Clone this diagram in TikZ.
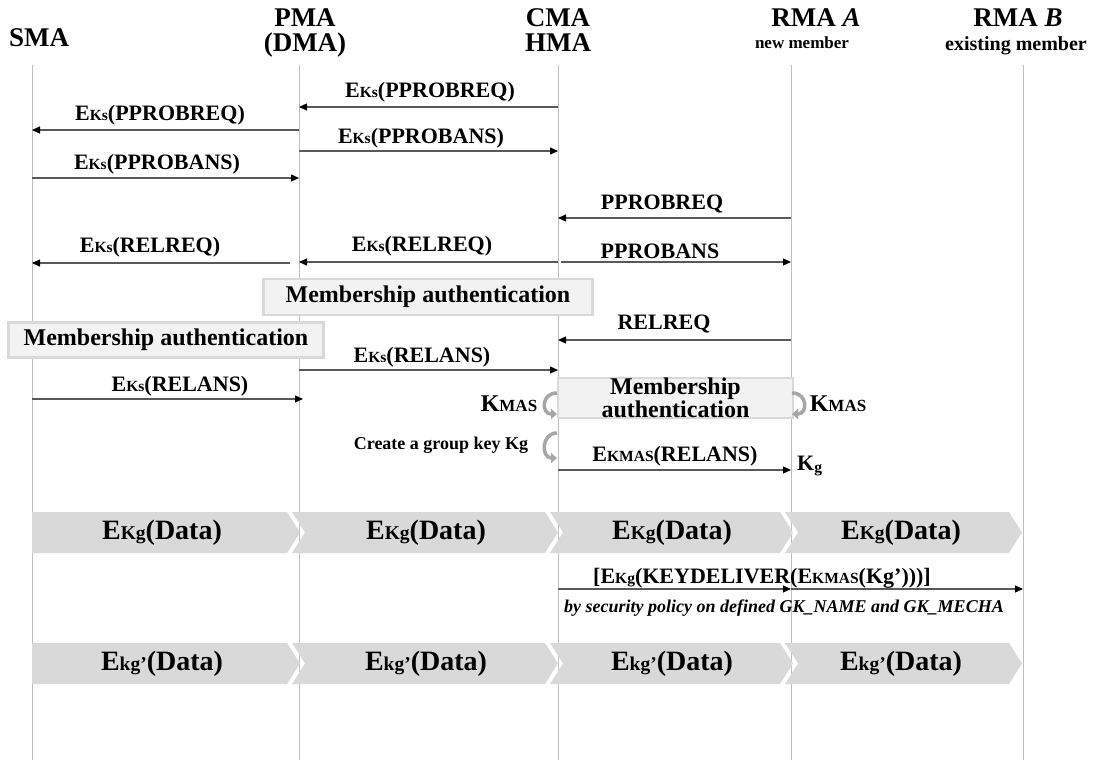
\documentclass[tikz,border=0pt]{standalone}
\usepackage{fontspec}
\setmainfont{Liberation Serif}
\usetikzlibrary{arrows.meta}
\definecolor{lifegray}{HTML}{BFBFBF}
\definecolor{boxfill}{HTML}{F2F2F2}
\definecolor{boxedge}{HTML}{D9D9D9}
\definecolor{chevfill}{HTML}{D9D9D9}
\definecolor{curlgray}{HTML}{A6A6A6}
% reduced-size key letters written after a full-size E or K
\newcommand\keysz[2]{{\fontsize{#1}{#1}\selectfont #2}}
\newcommand\ks[1]{\keysz{15.5}{#1}}
\newcommand\kb[1]{\keysz{19.5}{#1}}
\begin{document}
\begin{tikzpicture}[x=1pt,y=-1pt,
  life/.style={draw=lifegray,line width=1pt},
  msg/.style={draw=black!65,line width=1.1pt,-{Triangle[length=8pt,width=7pt,color=black]}},
  lbl/.style={inner sep=0pt,font=\fontsize{22}{24}\selectfont\bfseries},
  head/.style={inner sep=0pt,anchor=base,font=\fontsize{27}{27}\selectfont\bfseries},
  sub/.style={inner sep=0pt,anchor=base,font=\fontsize{17}{18}\selectfont\bfseries},
  authbox/.style={fill=boxfill,draw=boxedge,line width=2.5pt,inner sep=0pt,
    font=\fontsize{24}{26}\selectfont\bfseries},
  chevtext/.style={inner sep=0pt,font=\fontsize{28}{30}\selectfont\bfseries},
  curl/.style={draw=curlgray,line width=3.5pt,-{Triangle[length=6pt,width=10pt]}},
]
\useasboundingbox (0,0) rectangle (1096,760);

% lifelines
\foreach \n/\x in {sma/32,pma/299,cma/558,rmaa/791,rmab/1023}{
  \coordinate (\n) at (\x,65);
  \coordinate (\n-end) at (\x,760);
}
\foreach \n in {sma,pma,cma,rmaa,rmab} \draw[life] (\n) -- (\n-end);

% participant headers (one node per line, placed on baselines)
\node[head] (hsma) at (39,47) {SMA};
\node[head] (hpma) at (305,27) {PMA};
\node[head] (hdma) at (305,52) {(DMA)};
\node[head] (hcma) at (558,27) {CMA};
\node[head] (hhma) at (558,52) {HMA};
\node[head] (hrmaa) at (816,27) {RMA \textit{A}};
\node[sub] (hrmaan) at (802,49) {new member};
\node[head] (hrmab) at (1018,27) {RMA \textit{B}};
\node[sub,font=\fontsize{20}{20}\selectfont\bfseries] (hrmabn) at (1016,51) {existing member};

% message rows
\foreach \r/\y in {r1/107,r2/130,r3/151,r4/178,r5/218,r6/262,r7/263,r8/262,
                   r10/340,r12/370,r13/399,r17/470,r19/589}
  \coordinate (\r) at (0,\y);

\draw[msg] (cma |- r1) -- (pma |- r1);
\node[lbl] (l1) at (430,92) {E\ks{Ks}(PPROBREQ)};
\draw[msg] (pma |- r2) -- (sma |- r2);
\node[lbl] (l2) at (160,115) {E\ks{Ks}(PPROBREQ)};
\draw[msg] (pma |- r3) -- (cma |- r3);
\node[lbl] (l3) at (421,138) {E\ks{Ks}(PPROBANS)};
\draw[msg] (sma |- r4) -- (pma |- r4);
\node[lbl] (l4) at (157,164) {E\ks{Ks}(PPROBANS)};
\draw[msg] (rmaa |- r5) -- (cma |- r5);
\node[lbl] (l5) at (662,204) {PPROBREQ};
\draw[msg] ([xshift=3pt]cma |- r6) -- (rmaa |- r6);
\node[lbl] (l6) at (660,251) {PPROBANS};
\draw[msg] ([xshift=-9pt]pma |- r7) -- (sma |- r7);
\node[lbl] (l7) at (150,247) {E\ks{Ks}(RELREQ)};
\draw[msg] (cma |- r8) -- (pma |- r8);
\node[lbl] (l8) at (422,246) {E\ks{Ks}(RELREQ)};

% authentication boxes
\node[authbox,minimum width=329pt,minimum height=36pt] (auth1) at (428,297) {Membership authentication};
\draw[msg] (rmaa |- r10) -- (cma |- r10);
\node[lbl] (l10) at (664,324) {RELREQ};
\node[authbox,minimum width=315pt,minimum height=35pt] (auth2) at (166,340) {Membership authentication};
\draw[msg] (pma |- r12) -- (cma |- r12);
\node[lbl] (l12) at (422,357) {E\ks{Ks}(RELANS)};
\draw[msg] (sma |- r13) -- ([xshift=4pt]pma |- r13);
\node[lbl] (l13) at (180,386) {E\ks{Ks}(RELANS)};

\node[authbox,minimum width=235pt,minimum height=40pt,align=center,
      font=\fontsize{24}{16}\selectfont\bfseries] (auth3) at (675.5,398) {Membership\\authentication};

% key derivation curls
\coordinate (cl1a) at (557,393);
\coordinate (cl1b) at (541,393);
\coordinate (cl1c) at (541,414);
\coordinate (cl1d) at (557,414);
\draw[curl] (cl1a) .. controls (cl1b) and (cl1c) .. (cl1d);
\coordinate (cr1a) at (792,393);
\coordinate (cr1b) at (808,393);
\coordinate (cr1c) at (808,414);
\coordinate (cr1d) at (792,414);
\draw[curl] (cr1a) .. controls (cr1b) and (cr1c) .. (cr1d);
\node[lbl,font=\fontsize{24}{26}\selectfont\bfseries] (kmasl) at (509,404) {K\keysz{17}{MAS}};
\node[lbl,font=\fontsize{24}{26}\selectfont\bfseries] (kmasr) at (838,404) {K\keysz{17}{MAS}};

\coordinate (cl2a) at (557,433);
\coordinate (cl2b) at (541,433);
\coordinate (cl2c) at (541,458);
\coordinate (cl2d) at (557,458);
\draw[curl] (cl2a) .. controls (cl2b) and (cl2c) .. (cl2d);
\node[inner sep=0pt,font=\fontsize{18}{20}\selectfont\bfseries] (mkkg) at (441,445) {Create a group key Kg};

\draw[msg] (cma |- r17) -- (rmaa |- r17);
\node[lbl] (l17) at (675,456) {E\ks{KMAS}(RELANS)};
\node[lbl,anchor=west] (kg) at (797,466) {K\raisebox{-0.25ex}{\ks{g}}};

% data chevrons
\foreach \row/\yt/\lab in {a/512/{E\kb{Kg}(Data)},b/643/{E\kb{kg’}(Data)}}{
  \pgfmathsetmacro\ym{\yt+20.5}
  \pgfmathsetmacro\yb{\yt+41}
  \fill[chevfill] (32,\yt) -- (287,\yt) -- (300,\ym) -- (287,\yb) -- (32,\yb) -- cycle;
  \fill[chevfill] (292,\yt) -- (545,\yt) -- (558,\ym) -- (545,\yb) -- (292,\yb) -- (305,\ym) -- cycle;
  \fill[chevfill] (550,\yt) -- (780,\yt) -- (793,\ym) -- (780,\yb) -- (550,\yb) -- (563,\ym) -- cycle;
  \fill[chevfill] (785,\yt) -- (1009,\yt) -- (1022,\ym) -- (1009,\yb) -- (785,\yb) -- (798,\ym) -- cycle;
  \node[chevtext] (d\row1) at (162,\ym) {\lab};
  \node[chevtext] (d\row2) at (426,\ym) {\lab};
  \node[chevtext] (d\row3) at (672,\ym) {\lab};
  \node[chevtext] (d\row4) at (901,\ym) {\lab};
}

% group key delivery
\draw[msg] (cma |- r19) -- (rmaa |- r19);
\draw[msg] (rmaa |- r19) -- (rmab |- r19);
\node[lbl] (l19) at (762,578) {[E\ks{Kg}(KEYDELIVER(E\ks{KMAS}(Kg’)))]};
\node[inner sep=0pt,font=\fontsize{18}{20}\selectfont\bfseries\itshape] (pol) at (784,608)
  {by security policy on defined GK\_NAME and GK\_MECHA};
\end{tikzpicture}
\end{document}
